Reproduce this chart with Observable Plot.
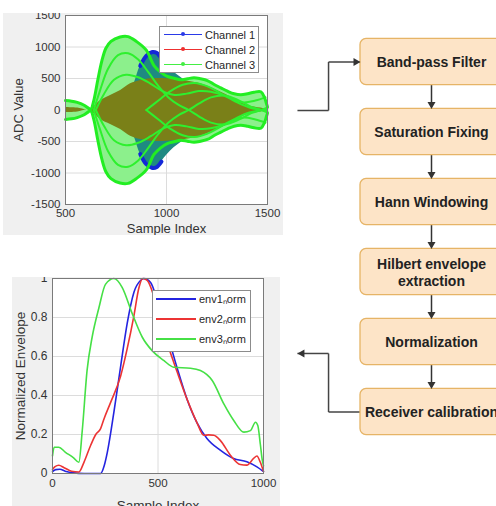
<!DOCTYPE html>
<html><head><meta charset="utf-8">
<script src="https://cdn.jsdelivr.net/npm/d3@7"></script>
<script src="https://cdn.jsdelivr.net/npm/@observablehq/plot@0.6"></script>
<style>
html,body{margin:0;padding:0;background:#fff;width:496px;height:506px;overflow:hidden;font-family:"Liberation Sans",Arial,sans-serif;}
#stage{position:relative;width:496px;height:506px;}
.panel{position:absolute;overflow:hidden;background:#f0f0f0;}
.panel svg{position:absolute;max-width:none !important;}
.legend{position:absolute;background:#fff;border:1px solid #8c8c8c;box-sizing:border-box;font-size:11px;color:#262626;}
.legend .row{position:absolute;left:0;right:0;height:14px;}
.legend .ln{position:absolute;top:6px;height:0;}
.legend .dot{position:absolute;top:4px;width:4px;height:4px;border-radius:2px;}
.legend .tx{position:absolute;top:0;line-height:14px;white-space:nowrap;}
#flow{position:absolute;left:0;top:0;pointer-events:none;max-width:none !important;}
</style></head>
<body><div id="stage">
<div class="panel" id="p1" style="left:3px;top:13px;width:280px;height:222px;"></div>
<div class="panel" id="p2" style="left:12px;top:277px;width:268px;height:229px;"></div>
</div>
<script>
// ---------- Top chart data (ADC samples, envelopes) ----------
const sampleTicksTop = [500, 1000, 1500];
const adcTicks = [-1500, -1000, -500, 0, 500, 1000, 1500];
const channelNames = ["Channel 1", "Channel 2", "Channel 3"];
const channelColors = ["#2a3ae8", "#ee3030", "#44ee44"];
// channel 3 (green) outer envelope [sample, value]
const ch3Env = [[500,150],[530,140],[558,120],[590,80],[615,25],[625,10],[640,150],[660,480],[680,780],[700,980],[725,1090],[770,1160],[810,1165],[850,1090],[900,950],[938,706],[971,601],[1004,532],[1037,505],[1070,480],[1103,495],[1136,511],[1169,495],[1202,468],[1236,405],[1269,352],[1302,299],[1335,257],[1368,241],[1401,257],[1434,283],[1467,290],[1485,200],[1495,100],[1500,50]];
// channel 1 (blue) envelope
const ch1Env = [[780,0],[810,200],[840,420],[870,700],[900,860],[930,920],[950,910],[975,820],[1004,706],[1037,601],[1070,521],[1103,442],[1136,389],[1169,336],[1202,283],[1236,230],[1269,177],[1302,98],[1335,20],[1370,0]];
// channel 2 (red) envelope
const ch2Env = [[500,40],[560,30],[612,0],[640,50],[674,150],[723,230],[773,310],[822,415],[872,468],[921,495],[1004,495],[1087,468],[1169,415],[1252,310],[1335,178],[1401,72],[1467,30],[1500,10]];
// inner traced curves of channel 3 markers
const ch3CurveA = [[640,0],[670,300],[710,650],[760,870],[810,900],[860,800],[910,600],[960,380],[1010,200],[1060,80],[1110,0],[1160,-100],[1220,-200],[1290,-230],[1360,-150],[1420,-50],[1470,0],[1500,40]];
const ch3CurveB = [[650,0],[690,250],[740,480],[800,560],[860,520],[920,420],[980,300],[1040,240],[1100,260],[1160,300],[1220,290],[1290,220],[1350,120],[1410,40],[1470,0],[1500,-20]];
const ch3CurveC = [[900,0],[960,150],[1020,300],[1080,400],[1140,430],[1200,380],[1260,280],[1320,180],[1380,120],[1440,150],[1490,200]];

// ---------- Bottom chart data (normalized envelopes) ----------
const sampleTicksBottom = [0, 500, 1000];
const envTicks = [0, 0.2, 0.4, 0.6, 0.8, 1];
const envNames = ["env1\u2099orm", "env2\u2099orm", "env3\u2099orm"];
const envColors = ["#2424e0", "#ec3434", "#46e046"];
const env1 = [[0,0.01],[15,0.02],[35,0.022],[60,0.012],[100,0.003],[150,0],[228,0],[245,0.04],[260,0.11],[291,0.315],[323,0.55],[354,0.77],[386,0.93],[417,0.99],[433,1.0],[465,0.98],[496,0.89],[543,0.72],[591,0.54],[638,0.38],[685,0.26],[732,0.18],[795,0.12],[858,0.077],[921,0.06],[969,0.034],[1000,0.01]];
const env2 = [[0,0.02],[12,0.035],[30,0.042],[55,0.03],[90,0.012],[125,0.008],[150,0.06],[181,0.145],[205,0.2],[228,0.23],[244,0.28],[276,0.366],[323,0.5],[354,0.64],[386,0.81],[409,0.95],[428,1.0],[449,0.99],[480,0.91],[512,0.78],[543,0.67],[591,0.52],[638,0.38],[685,0.26],[717,0.196],[740,0.198],[764,0.196],[795,0.17],[843,0.094],[890,0.046],[921,0.043],[953,0.077],[969,0.09],[984,0.06],[1000,0.01]];
const env3 = [[0,0.09],[8,0.135],[30,0.135],[60,0.11],[100,0.08],[125,0.058],[141,0.22],[164,0.53],[188,0.70],[220,0.85],[251,0.97],[291,1.0],[330,0.955],[378,0.82],[425,0.70],[472,0.63],[527,0.58],[575,0.545],[654,0.54],[701,0.528],[757,0.477],[812,0.357],[859,0.272],[907,0.212],[938,0.22],[962,0.263],[973,0.246],[985,0.15],[994,0.07],[1000,0.04]];

// ---------- Flowchart ----------
const steps = ["Band-pass Filter", "Saturation Fixing", "Hann Windowing", "Hilbert envelope\nextraction", "Normalization", "Receiver calibration"];
const flowIn = [[-0.444,0.693],[-0.225,0.693],[-0.225,0],[0,0]];
const flowOut = [[0,5],[-0.225,5],[-0.225,4.164],[-0.444,4.164]];

const FONT = "Liberation Sans, Arial, Helvetica, sans-serif";
const X = d => d[0], V = d => d[1], NV = d => -d[1];

// ---- top chart ----
const topChart = Plot.plot({
  width: 283, height: 248,
  marginLeft: 65, marginRight: 16, marginTop: 15, marginBottom: 44,
  x: {domain: [500, 1500], axis: null},
  y: {domain: [-1500, 1500], axis: null},
  style: {background: "transparent", fontFamily: FONT, color: "#333", overflow: "visible"},
  marks: [
    Plot.frame({fill: "white"}),
    Plot.gridX({ticks: sampleTicksTop, stroke: "#dcdcdc", strokeOpacity: 1}),
    Plot.gridY({ticks: adcTicks, stroke: "#dcdcdc", strokeOpacity: 1}),
    Plot.areaY(ch3Env, {x: X, y1: NV, y2: V, fill: "#8cf08c", curve: "catmull-rom"}),
    Plot.areaY(ch1Env, {x: X, y1: NV, y2: V, fill: "#1f8a82", curve: "catmull-rom"}),
    Plot.line(ch1Env, {filter: d => d[0] >= 870 && d[0] <= 975, x: X, y: V, stroke: "#1428d8", strokeWidth: 4, curve: "catmull-rom"}),
    Plot.line(ch1Env, {filter: d => d[0] >= 870 && d[0] <= 975, x: X, y: NV, stroke: "#1428d8", strokeWidth: 4, curve: "catmull-rom"}),
    Plot.areaY(ch2Env, {x: X, y1: NV, y2: V, fill: "#7a8018", curve: "catmull-rom"}),
    ...[ch3CurveA, ch3CurveB, ch3CurveC].flatMap(c => [
      Plot.line(c, {x: X, y: V, stroke: "#2ef02e", strokeWidth: 2, curve: "catmull-rom"}),
      Plot.line(c, {x: X, y: NV, stroke: "#2ef02e", strokeWidth: 2, curve: "catmull-rom"})
    ]),
    Plot.line(ch3Env, {x: X, y: V, stroke: "#22ee22", strokeWidth: 3, curve: "catmull-rom"}),
    Plot.line(ch3Env, {x: X, y: NV, stroke: "#22ee22", strokeWidth: 3, curve: "catmull-rom"}),
    Plot.frame({stroke: "#7a7a7a"}),
    Plot.axisX({ticks: sampleTicksTop, tickSize: 0, tickPadding: 4, fontSize: 11.5, label: null, tickFormat: d => String(d)}),
    Plot.axisY({ticks: adcTicks, tickSize: 0, tickPadding: 5, fontSize: 11.5, label: null, tickFormat: d => String(d)}),
    Plot.text(["ADC Value"], {text: d => d, frameAnchor: "left", textAnchor: "middle", lineAnchor: "middle", dx: -47, rotate: -90, fontSize: 13, fill: "#333"}),
    Plot.text(["Sample Index"], {text: d => d, frameAnchor: "bottom", textAnchor: "middle", lineAnchor: "middle", dy: 24, fontSize: 13, fill: "#333"})
  ]
});
Object.assign(topChart.style, {left: "-3px", top: "-13px", maxWidth: "none", width: "283px", height: "248px"});
document.getElementById("p1").appendChild(topChart);

// ---- bottom chart ----
const botChart = Plot.plot({
  width: 280, height: 255,
  marginLeft: 52, marginRight: 17, marginTop: 13, marginBottom: 47,
  x: {domain: [0, 1000], axis: null},
  y: {domain: [0, 1], axis: null},
  style: {background: "transparent", fontFamily: FONT, color: "#333", overflow: "visible"},
  marks: [
    Plot.frame({fill: "white"}),
    Plot.gridX({ticks: sampleTicksBottom, stroke: "#dcdcdc", strokeOpacity: 1}),
    Plot.gridY({ticks: envTicks, stroke: "#dcdcdc", strokeOpacity: 1}),
    Plot.line(env1, {x: X, y: V, stroke: envColors[0], strokeWidth: 1.6, curve: "monotone-x"}),
    Plot.line(env2, {x: X, y: V, stroke: envColors[1], strokeWidth: 1.6, curve: "monotone-x"}),
    Plot.line(env3, {x: X, y: V, stroke: envColors[2], strokeWidth: 1.6, curve: "monotone-x"}),
    Plot.frame({stroke: "#7a7a7a"}),
    Plot.axisX({ticks: sampleTicksBottom, tickSize: 0, tickPadding: 5, fontSize: 11.5, label: null, tickFormat: d => String(d)}),
    Plot.axisY({ticks: envTicks, tickSize: 0, tickPadding: 5, fontSize: 12, label: null, tickFormat: d => String(d)}),
    Plot.text(["Normalized Envelope"], {text: d => d, frameAnchor: "left", textAnchor: "middle", lineAnchor: "middle", dx: -32, rotate: -90, fontSize: 13.5, fill: "#333"}),
    Plot.text(["Sample Index"], {text: d => d, frameAnchor: "bottom", textAnchor: "middle", lineAnchor: "middle", dy: 32, fontSize: 13.5, fill: "#333"})
  ]
});
Object.assign(botChart.style, {left: "-12px", top: "-12px", maxWidth: "none", width: "280px", height: "255px"});
document.getElementById("p2").appendChild(botChart);

// ---- legends ----
function legend(names, colors, box, opts) {
  const el = document.createElement("div");
  el.className = "legend";
  Object.assign(el.style, {left: box[0] + "px", top: box[1] + "px", width: box[2] + "px", height: box[3] + "px"});
  names.forEach((n, i) => {
    const row = document.createElement("div");
    row.className = "row";
    row.style.top = (opts.rowTop + i * opts.rowGap) + "px";
    const ln = document.createElement("div");
    ln.className = "ln";
    Object.assign(ln.style, {left: opts.lineX + "px", width: opts.lineW + "px", borderTop: opts.lineWidth + "px solid " + colors[i]});
    row.appendChild(ln);
    if (opts.dot) {
      const dt = document.createElement("div");
      dt.className = "dot";
      Object.assign(dt.style, {left: (opts.lineX + opts.lineW / 2 - 2) + "px", background: colors[i]});
      row.appendChild(dt);
    }
    const tx = document.createElement("div");
    tx.className = "tx";
    tx.style.left = opts.textX + "px";
    tx.textContent = n;
    row.appendChild(tx);
    el.appendChild(row);
  });
  document.getElementById("stage").appendChild(el);
}
legend(channelNames, channelColors, [159, 26, 100, 47], {rowTop: 1, rowGap: 15, lineX: 4, lineW: 38, lineWidth: 1, textX: 45, dot: true});
legend(envNames, envColors, [152, 290, 99, 62], {rowTop: 1, rowGap: 20, lineX: 3, lineW: 40, lineWidth: 2, textX: 46, dot: false});

// ---- flowchart ----
const triDown = {draw(c) { c.moveTo(-4, -7); c.lineTo(4, -7); c.lineTo(0, 0); c.closePath(); }};
const triRight = {draw(c) { c.moveTo(-7, -4); c.lineTo(-7, 4); c.lineTo(0, 0); c.closePath(); }};
const triLeft = {draw(c) { c.moveTo(7, -4); c.lineTo(7, 4); c.lineTo(0, 0); c.closePath(); }};
const flowSegs = [...d3.pairs(flowIn), ...d3.pairs(flowOut)];
const flow = Plot.plot({
  width: 496, height: 506, margin: 0,
  x: {domain: [0, 1], range: [360, 502], axis: null},
  y: {domain: [0, 5], range: [61.5, 411.5], axis: null},
  style: {background: "transparent", fontFamily: FONT, overflow: "visible"},
  marks: [
    Plot.link(steps.slice(1), {x1: 0.5, x2: 0.5, y1: (d, i) => i + 0.329, y2: (d, i) => i + 1 - 0.36, stroke: "#333", strokeWidth: 1.5}),
    Plot.link(flowSegs, {x1: d => d[0][0], y1: d => d[0][1], x2: d => d[1][0], y2: d => d[1][1], stroke: "#444", strokeWidth: 1.5}),
    Plot.rect(steps, {x1: 0, x2: 1, y1: (d, i) => i - 0.329, y2: (d, i) => i + 0.329, fill: "#fde4c7", stroke: "#e6b466", strokeWidth: 1.3, rx: 6}),
    Plot.text(steps, {x: 0.5, y: (d, i) => i, text: d => d, fontWeight: "bold", fontSize: 14, fill: "#222", lineHeight: 1.2}),
    Plot.dot(steps.slice(1), {x: 0.5, y: (d, i) => i + 1 - 0.329, symbol: triDown, fill: "#333", stroke: "none"}),
    Plot.dot(flowIn.slice(-1), {x: X, y: V, symbol: triRight, fill: "#333", stroke: "none"}),
    Plot.dot(flowOut.slice(-1), {x: X, y: V, symbol: triLeft, fill: "#333", stroke: "none"})
  ]
});
flow.id = "flow";
document.getElementById("stage").appendChild(flow);
</script>
</body></html>
